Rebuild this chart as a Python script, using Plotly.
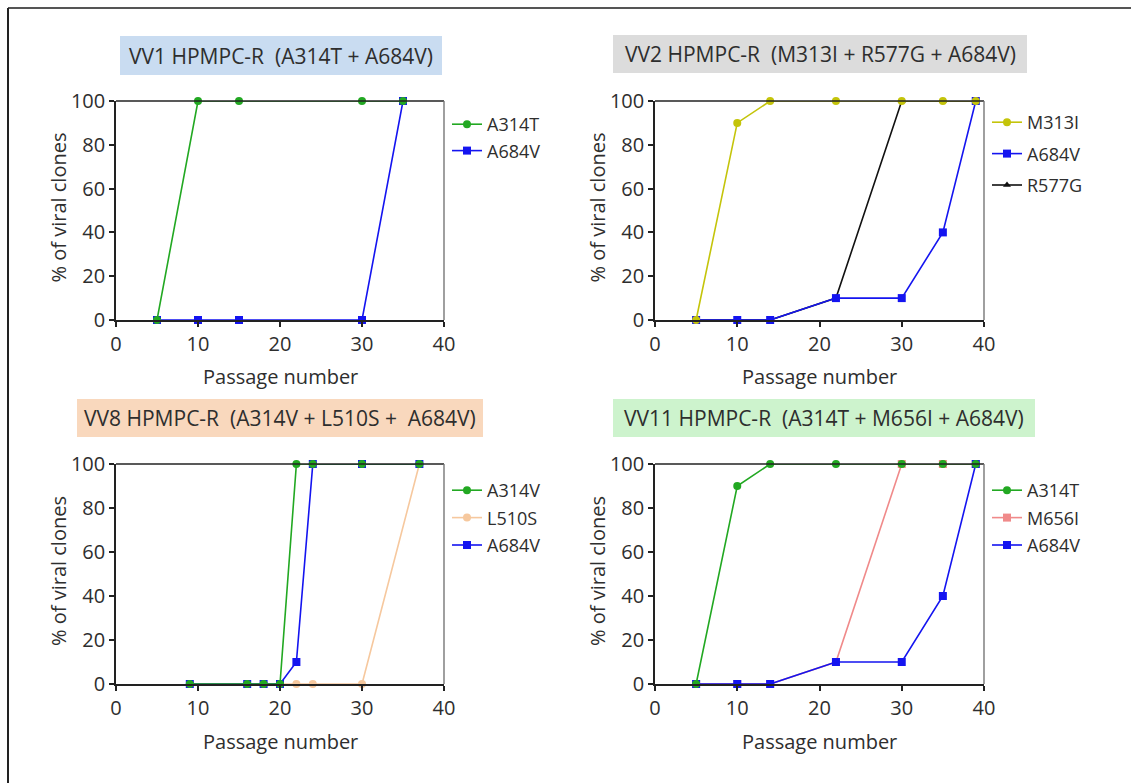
import plotly.graph_objects as go

# ---- data -------------------------------------------------------------
vv1_passage = [5, 10, 15, 30, 35]
vv1_A314T = [0, 100, 100, 100, 100]
vv1_A684V = [0, 0, 0, 0, 100]

vv2_passage = [5, 10, 14, 22, 30, 35, 39]
vv2_M313I = [0, 90, 100, 100, 100, 100, 100]
vv2_A684V = [0, 0, 0, 10, 10, 40, 100]
vv2_R577G = [0, 0, 0, 10, 100, 100, 100]

vv8_passage = [9, 16, 18, 20, 22, 24, 30, 37]
vv8_A314V = [0, 0, 0, 0, 100, 100, 100, 100]
vv8_L510S = [0, 0, 0, 0, 0, 0, 0, 100]
vv8_A684V = [0, 0, 0, 0, 10, 100, 100, 100]

vv11_passage = [5, 10, 14, 22, 30, 35, 39]
vv11_A314T = [0, 90, 100, 100, 100, 100, 100]
vv11_M656I = [0, 0, 0, 10, 100, 100, 100]
vv11_A684V = [0, 0, 0, 10, 10, 40, 100]

panel_titles = [
    "VV1 HPMPC-R  (A314T + A684V)",
    "VV2 HPMPC-R  (M313I + R577G + A684V)",
    "VV8 HPMPC-R  (A314V + L510S +  A684V)",
    "VV11 HPMPC-R  (A314T + M656I + A684V)",
]
x_title = "Passage number"
y_title = "% of viral clones"
x_ticks = [0, 10, 20, 30, 40]
y_ticks = [0, 20, 40, 60, 80, 100]

# ---- styling ------------------------------------------------------------
W, H = 1131, 783
FONT = "Open Sans"
TXT = "#2e2e2e"
GREEN = "#22a822"
BLUE = "#1414f0"
OLIVE = "#c4c40a"
BLACK = "#111111"
PEACH = "#f6c89e"
PINK = "#f08a8a"


def px(x):
    return x / W


def py(y):
    return 1 - y / H


# plot areas in pixels: (left, right, top, bottom)
areas = [
    (116, 444, 101, 320),
    (655, 984, 101, 320),
    (116, 444, 464, 684),
    (655, 984, 464, 684),
]
title_boxes = [
    (120, 442, 36, 75, "#c9dcf1"),
    (613, 1027, 35, 73, "#dcdcdc"),
    (77, 483, 399, 437, "#f9d8bd"),
    (613, 1035, 399, 437, "#cdf3cd"),
]
legend_pos = [(447, 106), (987, 104), (447, 472), (987, 472)]
legend_gap = [0, 5, 1, 1]

fig = go.Figure()

series = [
    [("A684V", vv1_passage, vv1_A684V, BLUE, "square"),
     ("A314T", vv1_passage, vv1_A314T, GREEN, "circle")],
    [("R577G", vv2_passage, vv2_R577G, BLACK, "triangle-up"),
     ("A684V", vv2_passage, vv2_A684V, BLUE, "square"),
     ("M313I", vv2_passage, vv2_M313I, OLIVE, "circle")],
    [("L510S", vv8_passage, vv8_L510S, PEACH, "circle"),
     ("A684V", vv8_passage, vv8_A684V, BLUE, "square"),
     ("A314V", vv8_passage, vv8_A314V, GREEN, "circle")],
    [("M656I", vv11_passage, vv11_M656I, PINK, "square"),
     ("A684V", vv11_passage, vv11_A684V, BLUE, "square"),
     ("A314T", vv11_passage, vv11_A314T, GREEN, "circle")],
]
legend_order = [
    ["A314T", "A684V"],
    ["M313I", "A684V", "R577G"],
    ["A314V", "L510S", "A684V"],
    ["A314T", "M656I", "A684V"],
]

for i, group in enumerate(series):
    n = i + 1
    xa = "x" if n == 1 else f"x{n}"
    ya = "y" if n == 1 else f"y{n}"
    lg = "legend" if n == 1 else f"legend{n}"
    for name, xs, ys, col, sym in group:
        rank = legend_order[i].index(name)
        fig.add_trace(go.Scatter(
            x=xs, y=ys, name=name, mode="lines+markers",
            xaxis=xa, yaxis=ya, legend=lg, legendrank=rank + 1,
            legendgroup=f"p{n}_{name}",
            line=dict(color=col, width=1.6),
            marker=dict(color=col, symbol=sym, size=8 if sym != "triangle-up" else 7),
            cliponaxis=False,
        ))

axis_common = dict(
    showgrid=False, zeroline=False, showline=True, linecolor="#222222",
    linewidth=1.6, ticks="outside", ticklen=5, tickwidth=1.5,
    tickcolor="#222222", tickfont=dict(family=FONT, size=20, color=TXT),
    fixedrange=True, automargin=False,
)

layout = dict(
    width=W, height=H, margin=dict(l=0, r=0, t=0, b=0, autoexpand=False),
    paper_bgcolor="white", plot_bgcolor="white",
    font=dict(family=FONT, color=TXT),
    shapes=[], annotations=[],
)

for i, (l, r, t, b) in enumerate(areas):
    n = i + 1
    xk = "xaxis" if n == 1 else f"xaxis{n}"
    yk = "yaxis" if n == 1 else f"yaxis{n}"
    xa = "x" if n == 1 else f"x{n}"
    ya = "y" if n == 1 else f"y{n}"
    layout[xk] = dict(axis_common, domain=[px(l), px(r)], range=[0, 40],
                      anchor=ya, tickvals=x_ticks)
    layout[yk] = dict(axis_common, domain=[py(b), py(t)], range=[0, 100],
                      anchor=xa, tickvals=y_ticks)
    # axis titles
    layout["annotations"].append(dict(
        text=x_title, xref="paper", yref="paper",
        x=px((l + r) / 2), y=py(b + 57), xanchor="center", yanchor="middle",
        showarrow=False, font=dict(family=FONT, size=20, color=TXT),
    ))
    layout["annotations"].append(dict(
        text=y_title, xref="paper", yref="paper", textangle=-90,
        x=px(l - 58), y=py((t + b) / 2 - 3), xanchor="center", yanchor="middle",
        showarrow=False, font=dict(family=FONT, size=20, color=TXT),
    ))
    # top and right edges of the plotting box
    layout["shapes"].append(dict(type="line", xref="paper", yref="paper",
                                 x0=px(l), x1=px(r), y0=py(t), y1=py(t),
                                 line=dict(color="#222222", width=1.6)))
    layout["shapes"].append(dict(type="line", xref="paper", yref="paper",
                                 x0=px(r), x1=px(r), y0=py(t), y1=py(b),
                                 line=dict(color="#777777", width=1.4)))
    # panel title with coloured band
    bl, br, bt, bb, bc = title_boxes[i]
    layout["shapes"].append(dict(type="rect", xref="paper", yref="paper",
                                 x0=px(bl), x1=px(br), y0=py(bb), y1=py(bt),
                                 fillcolor=bc, line=dict(width=0), layer="below"))
    layout["annotations"].append(dict(
        text=panel_titles[i], xref="paper", yref="paper",
        x=px((bl + br) / 2), y=py((bt + bb) / 2), xanchor="center", yanchor="middle",
        showarrow=False, font=dict(family=FONT, size=21, color=TXT),
    ))
    lx, ly = legend_pos[i]
    lk = "legend" if n == 1 else f"legend{n}"
    layout[lk] = dict(
        x=px(lx), y=py(ly), xanchor="left", yanchor="top",
        bgcolor="rgba(0,0,0,0)", borderwidth=0, itemwidth=30,
        font=dict(family=FONT, size=18, color=TXT),
        tracegroupgap=legend_gap[i], traceorder="grouped",
    )

# outer frame lines (left and top)
layout["shapes"].append(dict(type="line", xref="paper", yref="paper",
                             x0=px(8), x1=1, y0=py(8), y1=py(8),
                             line=dict(color="#555555", width=2)))
layout["shapes"].append(dict(type="line", xref="paper", yref="paper",
                             x0=px(8), x1=px(8), y0=0, y1=py(8),
                             line=dict(color="#222222", width=2)))

fig.update_layout(**layout)
fig.write_html("out.html")
